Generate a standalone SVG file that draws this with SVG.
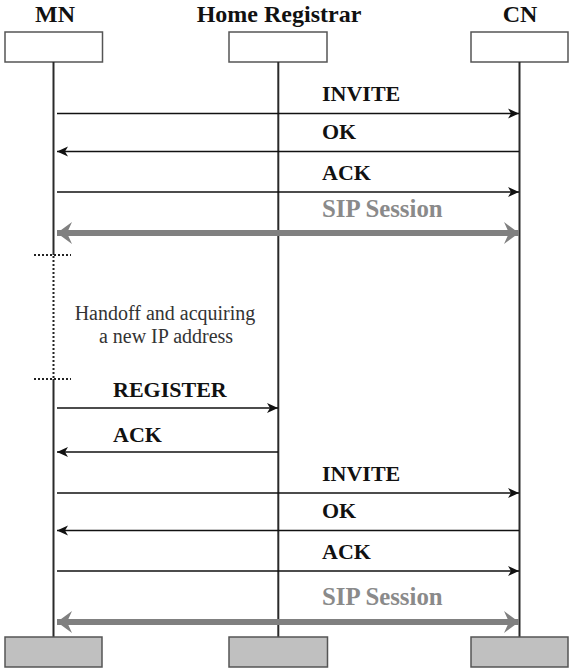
<svg xmlns="http://www.w3.org/2000/svg" width="569" height="670" viewBox="0 0 569 670">
<defs>
<style>
text{font-family:'Liberation Serif',Tinos,'Times New Roman',Times,'DejaVu Serif',serif}
.hdr{font-weight:bold;font-size:24px;fill:#111;text-anchor:middle}
.lbl{font-weight:bold;font-size:22px;fill:#111}
.sip{font-weight:bold;font-size:24.8px;fill:#8a8a8a}
.note{font-size:20px;fill:#333;text-anchor:middle}
.box{fill:#fff;stroke:#555;stroke-width:1.5}
.boxb{fill:#c0c0c0;stroke:#555;stroke-width:1.5}
.life{stroke:#2a2a2a;stroke-width:2;fill:none}
.dot{stroke:#222;stroke-width:2;stroke-dasharray:2 2;fill:none}
.msg{stroke:#111;stroke-width:1.5;fill:none;marker-end:url(#ah)}
.sess{stroke:#808080;stroke-width:6;fill:none;marker-start:url(#gs);marker-end:url(#ge)}
</style>
<marker id="ah" markerUnits="userSpaceOnUse" viewBox="-12 -6 13 12" refX="0" refY="0" markerWidth="13" markerHeight="12" orient="auto">
<path d="M0,0 L-11,-5 L-8,0 L-11,5 Z" fill="#111"/>
</marker>
<marker id="ge" markerUnits="userSpaceOnUse" viewBox="-17 -12 18 24" refX="0" refY="0" markerWidth="18" markerHeight="24" orient="auto">
<path d="M0,0 L-15,-11 L-10,0 L-15,11 Z" fill="#808080"/>
</marker>
<marker id="gs" markerUnits="userSpaceOnUse" viewBox="-1 -12 18 24" refX="0" refY="0" markerWidth="18" markerHeight="24" orient="auto">
<path d="M0,0 L15,-11 L10,0 L15,11 Z" fill="#808080"/>
</marker>
</defs>
<rect width="569" height="670" fill="#fff"/>

<g id="MN">
<text class="hdr" x="55" y="22">MN</text>
<rect class="box" x="5" y="32" width="97.5" height="30"/>
<line class="life" x1="53.5" y1="62" x2="53.5" y2="255"/>
<line class="life" x1="53.5" y1="379" x2="53.5" y2="637"/>
<rect class="boxb" x="5" y="637" width="97" height="30"/>
</g>

<g id="HomeRegistrar">
<text class="hdr" x="279" y="22">Home Registrar</text>
<rect class="box" x="229" y="32" width="98" height="30"/>
<line class="life" x1="278.3" y1="62" x2="278.3" y2="637"/>
<rect class="boxb" x="229" y="637" width="98.5" height="30"/>
</g>

<g id="CN">
<text class="hdr" x="520" y="22">CN</text>
<rect class="box" x="471" y="32" width="97" height="30"/>
<line class="life" x1="519.5" y1="62" x2="519.5" y2="637"/>
<rect class="boxb" x="471" y="637" width="97" height="30"/>
</g>

<g id="handoff">
<line class="dot" x1="34" y1="255" x2="71" y2="255"/>
<line class="dot" x1="53.5" y1="256" x2="53.5" y2="378"/>
<line class="dot" x1="34" y1="379" x2="71" y2="379"/>
<text class="note" x="165" y="320">Handoff and acquiring</text>
<text class="note" x="166" y="343">a new IP address</text>
</g>

<g id="connectors">
<line class="msg" x1="57" y1="113.5" x2="519" y2="113.5"/>
<text class="lbl" x="322" y="101">INVITE</text>
<line class="msg" x1="519" y1="151.5" x2="57" y2="151.5"/>
<text class="lbl" x="322" y="139">OK</text>
<line class="msg" x1="57" y1="192" x2="519" y2="192"/>
<text class="lbl" x="322" y="179.5">ACK</text>
<line class="sess" x1="57" y1="233" x2="519" y2="233"/>
<text class="sip" x="322" y="217">SIP Session</text>

<line class="msg" x1="57" y1="408" x2="278" y2="408"/>
<text class="lbl" x="113" y="397">REGISTER</text>
<line class="msg" x1="278" y1="452" x2="57" y2="452"/>
<text class="lbl" x="113" y="442">ACK</text>

<line class="msg" x1="57" y1="493" x2="519" y2="493"/>
<text class="lbl" x="322" y="480.5">INVITE</text>
<line class="msg" x1="519" y1="530.5" x2="57" y2="530.5"/>
<text class="lbl" x="322" y="518">OK</text>
<line class="msg" x1="57" y1="571" x2="519" y2="571"/>
<text class="lbl" x="322" y="558.5">ACK</text>
<line class="sess" x1="57" y1="622" x2="519" y2="622"/>
<text class="sip" x="322" y="605">SIP Session</text>
</g>
</svg>
